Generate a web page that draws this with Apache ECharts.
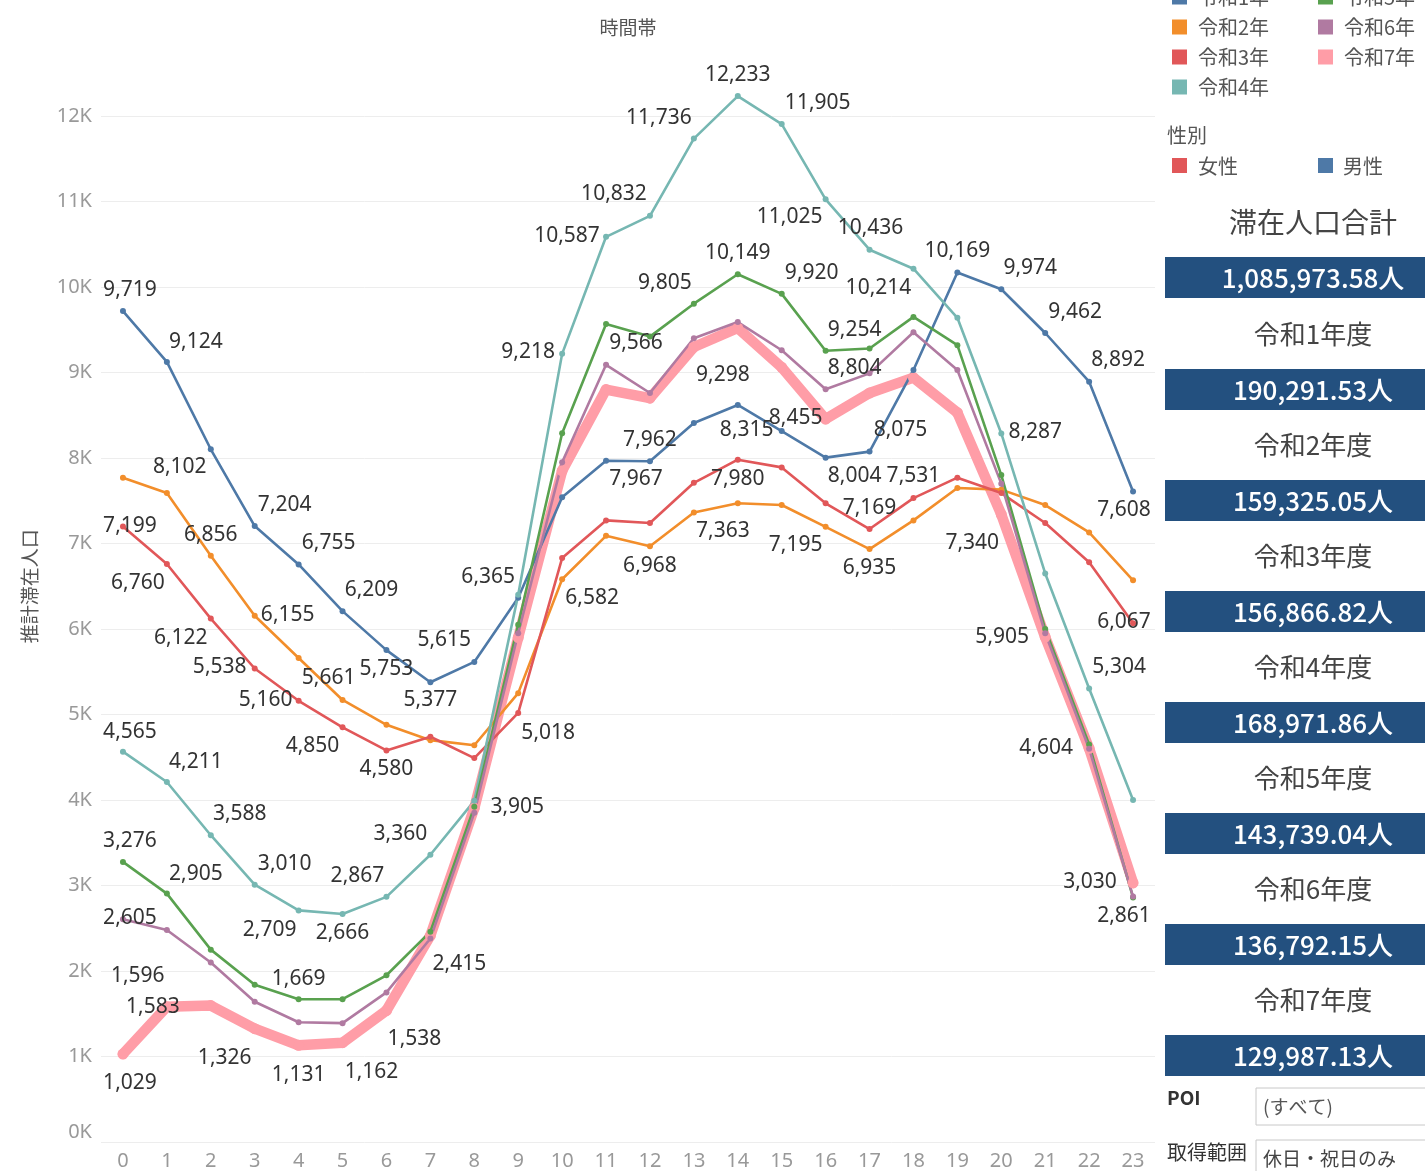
<!DOCTYPE html>
<html lang="ja">
<head>
<meta charset="utf-8"/>
<title>時間帯別 推計滞在人口</title>
<script src="https://cdn.jsdelivr.net/npm/echarts@6/dist/echarts.min.js"></script>
<style>
html,body{margin:0;padding:0;background:#fff;}
#Echarts{width:1425px;height:1171px;}
</style>
</head>
<body>
<div id="Echarts"></div>
<script>
// 時間帯 (x軸)
var hours = ['0','1','2','3','4','5','6','7','8','9','10','11','12','13','14','15','16','17','18','19','20','21','22','23'];

// 推計滞在人口 (年度別)
var r1 = [9719, 9124, 8102, 7204, 6755, 6209, 5753, 5377, 5615, 6365, 7540, 7967, 7962, 8410, 8620, 8315, 8004, 8075, 9030, 10169, 9974, 9462, 8892, 7608];
var r2 = [7770, 7590, 6856, 6155, 5661, 5170, 4880, 4700, 4640, 5250, 6582, 7090, 6968, 7363, 7470, 7450, 7195, 6935, 7270, 7650, 7630, 7450, 7130, 6570];
var r3 = [7199, 6760, 6122, 5538, 5160, 4850, 4580, 4740, 4490, 5018, 6830, 7270, 7240, 7710, 7980, 7890, 7470, 7169, 7531, 7770, 7590, 7240, 6780, 6067];
var r4 = [4565, 4211, 3588, 3010, 2709, 2666, 2867, 3360, 3990, 6400, 9218, 10587, 10832, 11736, 12233, 11905, 11025, 10436, 10214, 9640, 8287, 6650, 5304, 4000];
var r5 = [3276, 2905, 2250, 1840, 1669, 1670, 1950, 2460, 3920, 6050, 8290, 9566, 9420, 9805, 10149, 9920, 9254, 9280, 9650, 9320, 7800, 6000, 4650, 2861];
var r6 = [2605, 2480, 2100, 1640, 1400, 1390, 1750, 2380, 3850, 5950, 7950, 9090, 8760, 9400, 9590, 9260, 8804, 8990, 9470, 9030, 7700, 5950, 4600, 2870];
var r7 = [1029, 1583, 1596, 1326, 1131, 1162, 1538, 2415, 3905, 5900, 7850, 8800, 8700, 9298, 9520, 9060, 8455, 8760, 8940, 8530, 7340, 5905, 4604, 3030];

var yearNames = ['令和1年','令和2年','令和3年','令和4年','令和5年','令和6年','令和7年'];

// 右側の集計表示
var totalLabel = '滞在人口合計';
var totalValue = '1,085,973.58人';
var fyLabels = ['令和1年度','令和2年度','令和3年度','令和4年度','令和5年度','令和6年度','令和7年度'];
var fyValues = ['190,291.53人','159,325.05人','156,866.82人','168,971.86人','143,739.04人','136,792.15人','129,987.13人'];

var colors = ['#4E79A7','#F28E2B','#E15759','#76B7B2','#59A14F','#B07AA1','#FF9DA7'];
var FONT = "'Noto Sans', 'Noto Sans CJK JP', sans-serif";
var JFONT = "'Noto Sans CJK JP', 'Noto Sans', sans-serif";

// ラベル位置 (点からのずれ) -- 表示するラベルだけ
var labelPos = {
	'令和1年': {0:[7,-21],1:[29,-20],2:[-31,18],3:[30,-21],4:[30,-21],5:[29,-21],6:[0,19],7:[0,18],8:[-30,-22],9:[-30,-21],
		11:[30,18],12:[0,-21],15:[-35,-1],16:[29,18],17:[31,-22],19:[0,-22],20:[29,-21],21:[30,-21],22:[29,-22],23:[-9,18]},
	'令和2年': {2:[0,-21],3:[33,-1],4:[30,20],10:[30,19],12:[0,20],13:[29,19],16:[-30,18],17:[0,19]},
	'令和3年': {0:[7,0],1:[-29,19],2:[-30,19],3:[-35,-1],4:[-33,-1],5:[-30,19],6:[0,19],9:[30,20],14:[0,19],17:[0,-21],18:[0,-22],23:[-9,-1]},
	'令和4年': {0:[7,-20],1:[29,-20],2:[29,-21],3:[30,-21],4:[-29,20],5:[0,19],6:[-29,-21],7:[-30,-21],10:[-34,-2],11:[-39,-1],
		12:[-36,-22],13:[-35,-21],14:[0,-21],15:[36,-21],16:[-36,18],17:[1,-22],18:[-35,19],20:[34,-1],22:[30,-21]},
	'令和5年': {0:[7,-21],1:[29,-20],4:[0,-20],11:[30,19],13:[-29,-21],14:[0,-21],15:[30,-21],16:[29,-21],23:[-9,19]},
	'令和6年': {0:[7,-1],16:[29,-21]},
	'令和7年': {0:[7,29],1:[-14,0],2:[-73,-30],3:[-30,29],4:[0,30],5:[29,29],6:[28,29],7:[29,28],8:[43,-1],13:[29,28],
		16:[-30,-1],20:[-29,29],21:[-43,0],22:[-43,0],23:[-43,-1]}
};

function fmt(v){
	return Number(v).toLocaleString('en-US');
}

function mkSeries(name, vals, color, width, sym){
	var pos = labelPos[name] || {};
	return {
		name: name,
		type: 'line',
		data: vals.map(function(v, i){
			if(pos[i]){
				return {value: v, label: {show: true, offset: pos[i]}};
			}
			return v;
		}),
		color: color,
		symbol: 'circle',
		symbolSize: sym,
		showSymbol: true,
		lineStyle: {width: width, cap: 'round', join: 'round'},
		itemStyle: {color: color},
		label: {
			show: false,
			position: 'inside',
			formatter: function(p){ return fmt(p.value); },
			fontFamily: FONT,
			fontSize: 21,
			color: '#333'
		},
		emphasis: {disabled: true},
		z: 2
	};
}

var allVals = [r1, r2, r3, r4, r5, r6, r7];
// 令和7年 (太線) を先に描く
var seriesList = [mkSeries(yearNames[6], r7, colors[6], 10.5, 11)];
for(var k = 0; k < 6; k++){
	seriesList.push(mkSeries(yearNames[k], allVals[k], colors[k], 2.6, 6));
}

// 右パネル
var graphics = [];
graphics.push({type:'text', style:{text:'時間帯', x:628, y:28, align:'center', verticalAlign:'middle', font:'19px ' + JFONT, fill:'#555'}});
graphics.push({type:'text', style:{text:'性別', x:1167, y:135, verticalAlign:'middle', font:'20px ' + JFONT, fill:'#555'}});
graphics.push({type:'rect', shape:{x:1172, y:158, width:15, height:15}, style:{fill:colors[2]}});
graphics.push({type:'text', style:{text:'女性', x:1198, y:166, verticalAlign:'middle', font:'20px ' + JFONT, fill:'#555'}});
graphics.push({type:'rect', shape:{x:1318, y:158, width:15, height:15}, style:{fill:colors[0]}});
graphics.push({type:'text', style:{text:'男性', x:1343, y:166, verticalAlign:'middle', font:'20px ' + JFONT, fill:'#555'}});
graphics.push({type:'text', style:{text:totalLabel, x:1313, y:222, align:'center', verticalAlign:'middle', font:'28px ' + JFONT, fill:'#444'}});
graphics.push({type:'rect', shape:{x:1165, y:257, width:260, height:41}, style:{fill:'#23507f'}});
graphics.push({type:'text', style:{text:totalValue, x:1313, y:278, align:'center', verticalAlign:'middle', font:'500 26px ' + JFONT, fill:'#fff'}});
for(var i = 0; i < fyLabels.length; i++){
	var by = 369 + i * 111;
	graphics.push({type:'text', style:{text:fyLabels[i], x:1313, y:by - 35, align:'center', verticalAlign:'middle', font:'26px ' + JFONT, fill:'#444'}});
	graphics.push({type:'rect', shape:{x:1165, y:by, width:260, height:41}, style:{fill:'#23507f'}});
	graphics.push({type:'text', style:{text:fyValues[i], x:1313, y:by + 21, align:'center', verticalAlign:'middle', font:'500 26px ' + JFONT, fill:'#fff'}});
}
graphics.push({type:'text', style:{text:'POI', x:1167, y:1098, verticalAlign:'middle', font:'bold 19px ' + JFONT, fill:'#333'}});
graphics.push({type:'rect', shape:{x:1256, y:1088, width:180, height:37}, style:{fill:'#fff', stroke:'#c8c8c8', lineWidth:1}});
graphics.push({type:'text', style:{text:'(すべて)', x:1263, y:1107, verticalAlign:'middle', font:'19px ' + JFONT, fill:'#555'}});
graphics.push({type:'text', style:{text:'取得範囲', x:1167, y:1152, verticalAlign:'middle', font:'20px ' + JFONT, fill:'#333'}});
graphics.push({type:'rect', shape:{x:1256, y:1140, width:180, height:40}, style:{fill:'#fff', stroke:'#c8c8c8', lineWidth:1}});
graphics.push({type:'text', style:{text:'休日・祝日のみ', x:1263, y:1159, verticalAlign:'middle', font:'19px ' + JFONT, fill:'#444'}});

var legendBase = {
	orient: 'vertical',
	top: -13,
	padding: 0,
	icon: 'rect',
	itemWidth: 15,
	itemHeight: 15,
	itemGap: 10,
	selectedMode: false,
	textStyle: {fontFamily: JFONT, fontSize: 20, color: '#555', lineHeight: 20, padding: [0, 0, 0, 6]}
};

var myChart = echarts.init(document.getElementById('Echarts'));
myChart.setOption({
	animation: false,
	backgroundColor: '#fff',
	textStyle: {fontFamily: FONT},
	legend: [
		Object.assign({}, legendBase, {left: 1172, data: yearNames.slice(0, 4)}),
		Object.assign({}, legendBase, {left: 1318, data: yearNames.slice(4)})
	],
	grid: {left: 101, right: 270, top: 30.5, bottom: 29, containLabel: false},
	xAxis: {
		type: 'category',
		data: hours,
		boundaryGap: true,
		axisLine: {show: false},
		axisTick: {show: false},
		axisLabel: {color: '#999', fontSize: 20, margin: 9, fontFamily: FONT}
	},
	yAxis: {
		type: 'value',
		min: 0,
		max: 13000,
		interval: 1000,
		name: '推計滞在人口',
		nameLocation: 'middle',
		nameGap: 62,
		nameTextStyle: {fontFamily: JFONT, fontSize: 19, color: '#555'},
		axisLine: {show: false},
		axisTick: {show: false},
		axisLabel: {
			color: '#999', fontSize: 20, margin: 9, fontFamily: FONT,
			showMaxLabel: false,
			verticalAlignMinLabel: 'bottom',
			formatter: function(v){ return v > 12000 ? '' : (v / 1000) + 'K'; }
		},
		splitLine: {show: true, showMaxLine: false, lineStyle: {color: '#ededed', width: 1}}
	},
	series: seriesList,
	graphic: graphics
});
</script>
</body>
</html>
